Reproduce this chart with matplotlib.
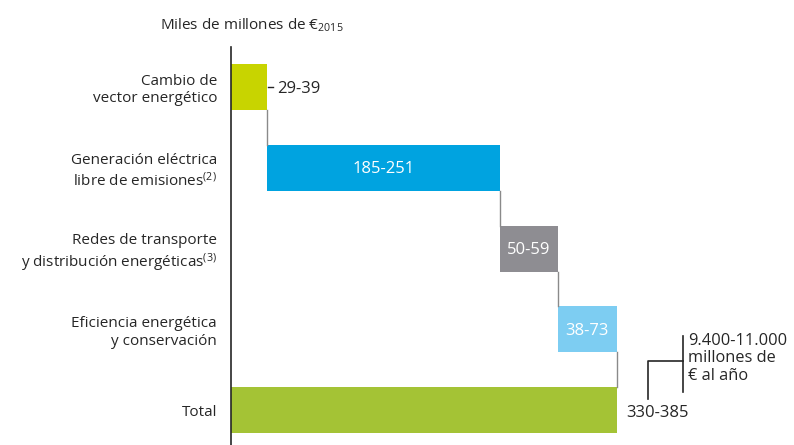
import matplotlib.pyplot as plt
import numpy as np

plt.rcParams['font.family'] = ['Open Sans', 'DejaVu Sans']
plt.rcParams['mathtext.fontset'] = 'custom'
plt.rcParams['mathtext.rm'] = 'Open Sans'
plt.rcParams['mathtext.it'] = 'Open Sans'

# categories and values (midpoints of the ranges, miles de millones de euros)
categories = ['Cambio de\nvector energético',
              'Generación eléctrica\nlibre de emisiones$^{(2)}$',
              'Redes de transporte\ny distribución energéticas$^{(3)}$',
              'Eficiencia energética\ny conservación',
              'Total']
ranges = ['29-39', '185-251', '50-59', '38-73', '330-385']
low = np.array([29, 185, 50, 38])
high = np.array([39, 251, 59, 73])
values = (low + high) / 2
colors = ['#c8d400', '#00a3e0', '#8e8d92', '#7dcdf2', '#a4c335']

total = values.sum()
starts = np.concatenate([[0], np.cumsum(values)[:-1]])

fig = plt.figure(figsize=(7.94, 4.45), dpi=100)
ax = fig.add_axes([231/794, 0, 563/794, (445-47)/445])
ax.set_xlim(0, 563/1.066)
ax.set_ylim(4.43, -0.495)

bh = 0.57
y = np.arange(len(categories))
ax.barh(y[:4], values, left=starts, height=bh, color=colors[:4])
ax.barh(y[4], total, left=0, height=bh, color=colors[4])

# connectors
ends = np.cumsum(values)
for i in range(4):
    ax.plot([ends[i], ends[i]], [i + bh/2, i + 1 - bh/2], color='#8a8a8a', lw=1)

txt = '#262626'
# labels
ax.plot([values[0] + 1, values[0] + 5], [0, 0], color=txt, lw=1)
ax.text(values[0] + 9.5, 0.02, ranges[0], ha='left', va='center', fontsize=12, color=txt)
for i in range(1, 4):
    ax.text(starts[i] + values[i]/2, i + 0.02, ranges[i], ha='center', va='center',
            fontsize=12, color='white')
ax.text(total + 9, 4.03, ranges[4], ha='left', va='center', fontsize=12, color=txt)

# bracket
bx1, bx2 = total + 29, total + 62
ax.plot([bx1, bx1, bx2], [3.86, 3.39, 3.39], color=txt, lw=1.2, clip_on=False)
ax.plot([bx2, bx2], [3.08, 3.78], color=txt, lw=1.2, clip_on=False)
ax.text(bx2 + 5, 3.04, '9.400-11.000\nmillones de\n€ al año', ha='left', va='top',
        fontsize=11.8, color=txt, linespacing=1.15)

ax.set_yticks(y)
ax.set_yticklabels(categories, fontsize=11, color=txt, ha='right')
ax.tick_params(axis='y', length=0, pad=10)
ax.set_xticks([])
for s in ['top', 'right', 'bottom']:
    ax.spines[s].set_visible(False)
ax.spines['left'].set_color(txt)
ax.spines['left'].set_linewidth(1.2)

fig.text(160/794, 1 - 25/445, 'Miles de millones de €$_{2015}$', ha='left', va='center',
         fontsize=11, color=txt)

fig.savefig('out.png', dpi=100)
